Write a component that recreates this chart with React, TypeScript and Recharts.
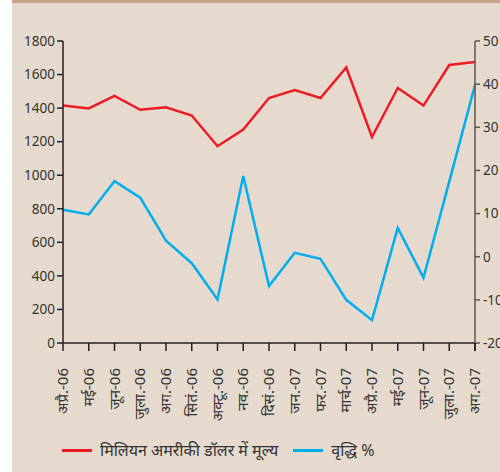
import { LineChart, Line, XAxis, YAxis, Legend } from "recharts";

const months = [
  "अप्रै.-06", "मई-06", "जून-06", "जुला.-06", "अग.-06", "सितं.-06",
  "अक्टू.-06", "नव.-06", "दिसं.-06", "जन.-07", "फर.-07", "मार्च-07",
  "अप्रै.-07", "मई-07", "जून-07", "जुला.-07", "अग.-07",
];
const valueMillionUsd = [
  1415, 1398, 1473, 1390, 1405, 1356, 1173, 1272, 1460, 1508, 1460, 1642,
  1228, 1520, 1415, 1657, 1675,
];
const growthPct = [
  10.9, 9.8, 17.5, 13.7, 3.7, -1.5, -9.9, 18.7, -6.8, 0.9, -0.5, -10,
  -14.7, 6.7, -4.9, 17.4, 39.8,
];
const leftTicks = [0, 200, 400, 600, 800, 1000, 1200, 1400, 1600, 1800];
const rightTicks = [-20, -10, 0, 10, 20, 30, 40, 50];

const RED = "#ed1c24";
const BLUE = "#00aeef";
const TEXT = "#333333";
const FONT = "'Noto Sans', 'Noto Sans Devanagari', sans-serif";

const data = months.map((m, i) => ({
  month: m,
  value: valueMillionUsd[i],
  growth: growthPct[i],
}));

// x ticks sit on the band edges, labels in the middle, read bottom-to-top
function MonthTick(props: any) {
  const { x, y, payload, index } = props;
  const half = payload.offset ?? 0;
  const tx = x + 5;
  const ty = y + 17;
  return (
    <g>
      <line x1={x - half} y1={y - 8} x2={x - half} y2={y} stroke="#231f20" strokeWidth={1.5} />
      {index === months.length - 1 && (
        <line x1={x + half} y1={y - 8} x2={x + half} y2={y} stroke="#231f20" strokeWidth={1.5} />
      )}
      <text
        x={tx}
        y={ty}
        transform={`rotate(-90, ${tx}, ${ty})`}
        textAnchor="end"
        fontSize={15}
        fill={TEXT}
        fontFamily={FONT}
      >
        {payload.value}
      </text>
    </g>
  );
}

function LegendBox() {
  const item = (color: string, label: string, gap: number) => (
    <div style={{ display: "flex", alignItems: "center", marginRight: gap }}>
      <span style={{ display: "inline-block", width: 30, height: 3, background: color, marginRight: 8 }} />
      <span style={{ fontSize: 16, color: TEXT, fontFamily: FONT }}>{label}</span>
    </div>
  );
  return (
    <div style={{ display: "flex", alignItems: "center", paddingLeft: 50, height: 30 }}>
      {item(RED, "मिलियन अमरीकी डॉलर में मूल्य", 15)}
      {item(BLUE, "वृद्धि %", 0)}
    </div>
  );
}

export default function App() {
  return (
    <div style={{ position: "absolute", left: 0, top: 0, width: 500, height: 472, background: "#ffffff" }}>
      <div
        style={{
          position: "absolute",
          left: 12,
          top: 0,
          width: 488,
          height: 472,
          background: "#e5dacd",
          borderTop: "3px solid #c4a189",
          boxSizing: "border-box",
        }}
      >
        <LineChart
          width={488}
          height={469}
          data={data}
          margin={{ top: 38, right: 0, bottom: 7, left: 0 }}
        >
          <XAxis
            dataKey="month"
            xAxisId="x"
            interval={0}
            tickLine={false}
            axisLine={{ stroke: "#231f20", strokeWidth: 1.5 }}
            tick={<MonthTick />}
            height={92}
          />
          <YAxis
            yAxisId="left"
            orientation="left"
            domain={[0, 1800]}
            ticks={leftTicks}
            width={51}
            tickSize={6}
            tickLine={{ stroke: "#231f20", strokeWidth: 1.5 }}
            axisLine={{ stroke: "#231f20", strokeWidth: 1.5 }}
            tick={{ fill: TEXT, fontSize: 13.5, fontFamily: FONT }}
          />
          <YAxis
            yAxisId="right"
            orientation="right"
            domain={[-20, 50]}
            ticks={rightTicks}
            width={25}
            tickSize={5}
            tickMargin={3}
            tickLine={{ stroke: "#5e5650", strokeWidth: 1.5 }}
            axisLine={{ stroke: "#5e5650", strokeWidth: 1.5 }}
            tick={{ fill: TEXT, fontSize: 13.5, fontFamily: FONT, textAnchor: "start" }}
          />
          <Legend verticalAlign="bottom" content={<LegendBox />} wrapperStyle={{ left: 0, width: 488 }} />
          <Line
            xAxisId="x"
            yAxisId="left"
            dataKey="value"
            name="मिलियन अमरीकी डॉलर में मूल्य"
            stroke={RED}
            strokeWidth={2.5}
            dot={false}
            type="linear"
            isAnimationActive={false}
          />
          <Line
            xAxisId="x"
            yAxisId="right"
            dataKey="growth"
            name="वृद्धि %"
            stroke={BLUE}
            strokeWidth={2.5}
            dot={false}
            type="linear"
            isAnimationActive={false}
          />
        </LineChart>
      </div>
    </div>
  );
}
